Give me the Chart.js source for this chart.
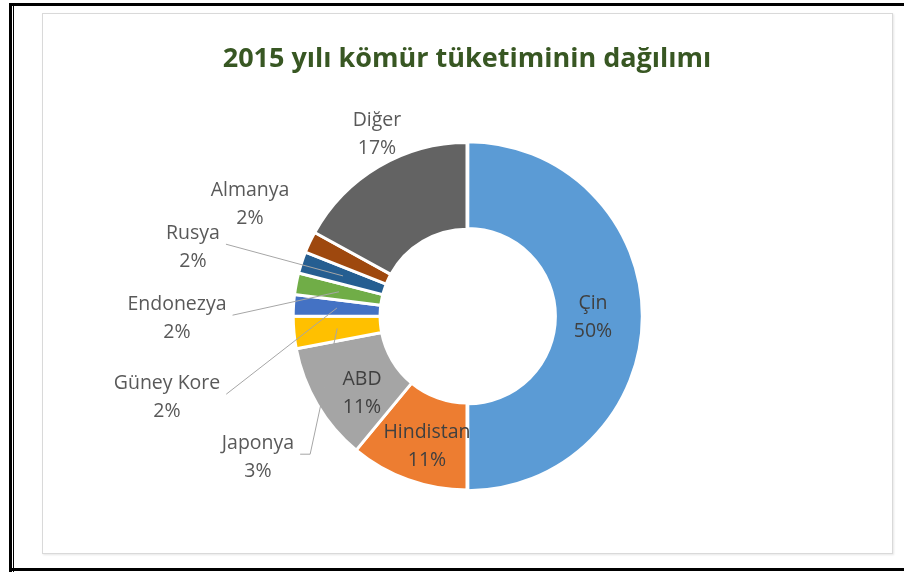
<!DOCTYPE html>
<html>
<head>
<meta charset="utf-8">
<script src="https://cdn.jsdelivr.net/npm/chart.js@4.4.1/dist/chart.umd.min.js"></script>
<style>
  body { margin: 0; background: #fff; }
  #wrap { position: relative; width: 904px; height: 572px; overflow: hidden; }
  .frame-top { position: absolute; left: 9px; top: 3px; width: 895px; height: 3px; background: #000; }
  .frame-left1 { position: absolute; left: 9px; top: 3px; width: 3px; height: 569px; background: #000; }
  .frame-left2 { position: absolute; left: 13px; top: 6px; width: 1px; height: 566px; background: #000; }
  .frame-bottom { position: absolute; left: 9px; top: 568px; width: 895px; height: 3px; background: #000; }
  .panel { position: absolute; left: 42px; top: 13px; width: 849px; height: 539px; border: 1px solid #d9d9d9; box-shadow: 1px 1px 2px #e6e6e6; background: #fff; }
  canvas { position: absolute; left: 0; top: 0; }
</style>
</head>
<body>
<div id="wrap">
  <div class="frame-top"></div>
  <div class="frame-left1"></div>
  <div class="frame-left2"></div>
  <div class="frame-bottom"></div>
  <div class="panel"></div>
  <canvas id="coalChart" width="904" height="572"></canvas>
</div>
<script>
// veriler
const countries = ["Çin", "Hindistan", "ABD", "Japonya", "Güney Kore", "Endonezya", "Rusya", "Almanya", "Diğer"];
const shares = [50, 11, 11, 3, 2, 2, 2, 2, 17];
const sliceColors = ["#5b9bd5", "#ed7d31", "#a5a5a5", "#ffc000", "#4472c4", "#70ad47", "#255e91", "#9e480e", "#636363"];

// etiket yerleşimi (merkeze göre)
const labelOffsets = [[126, 1], [-40, 130], [-105, 77], [-209, 141], [-300, 81], [-290, 2], [-274, -69], [-217, -112], [-90, -182]];
const labelInside = [true, true, true, false, false, false, false, false, false];
const leaderElbow = [null, null, null, 10, 0, 0, 0, null, null];

const labelFont = '19.5px "Open Sans"';

const sliceLabels = {
    id: 'sliceLabels',
    afterDatasetsDraw(chart) {
        const ctx = chart.ctx;
        const arcs = chart.getDatasetMeta(0).data;
        const total = shares.reduce((a, b) => a + b, 0);
        ctx.save();
        ctx.font = labelFont;
        arcs.forEach((arc, i) => {
            const lx = arc.x + labelOffsets[i][0];
            const ly = arc.y + labelOffsets[i][1];
            if (leaderElbow[i] !== null) {
                const w = ctx.measureText(countries[i]).width;
                const sx = lx + w / 2 + 6;
                const sy = ly - 3;
                const end = arc.tooltipPosition();
                ctx.strokeStyle = '#a6a6a6';
                ctx.lineWidth = 1;
                ctx.beginPath();
                ctx.moveTo(sx, sy);
                ctx.lineTo(sx + leaderElbow[i], sy);
                ctx.lineTo(end.x, end.y);
                ctx.stroke();
            }
        });
        ctx.textAlign = 'center';
        ctx.textBaseline = 'middle';
        arcs.forEach((arc, i) => {
            const lx = arc.x + labelOffsets[i][0];
            const ly = arc.y + labelOffsets[i][1];
            const pct = Math.round(shares[i] / total * 100) + '%';
            ctx.fillStyle = labelInside[i] ? '#404040' : '#595959';
            ctx.fillText(countries[i], lx, ly - 14);
            ctx.fillText(pct, lx, ly + 14);
        });
        ctx.restore();
    }
};

const coalChart = new Chart(document.getElementById("coalChart"), {
    type: 'doughnut',
    data: {
        labels: countries,
        datasets: [{
            data: shares,
            backgroundColor: sliceColors,
            borderColor: '#ffffff',
            borderWidth: 3,
            offset: [3, 0, 0, 0, 0, 0, 0, 0, 0]
        }]
    },
    options: {
        responsive: false,
        animation: false,
        cutout: '50%',
        layout: {
            padding: { left: 30, right: 0, top: 0, bottom: 79 }
        },
        plugins: {
            legend: { display: false },
            tooltip: { enabled: false },
            title: {
                display: true,
                text: '2015 yılı kömür tüketiminin dağılımı',
                color: '#385723',
                font: { family: 'Open Sans', size: 27, weight: 'bold' },
                padding: { top: 43, bottom: 64 }
            }
        }
    },
    plugins: [sliceLabels]
});
</script>
</body>
</html>
